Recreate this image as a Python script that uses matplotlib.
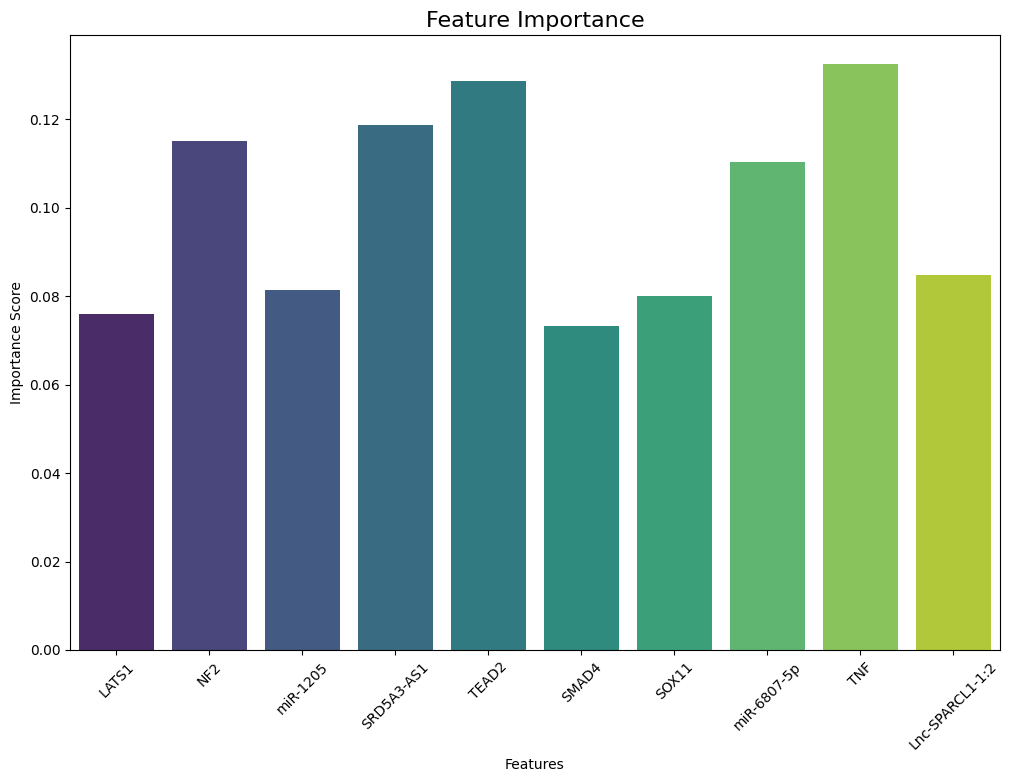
import matplotlib
matplotlib.use("Agg")
import matplotlib.pyplot as plt
import seaborn as sns
import pandas as pd

features = ["LATS1", "NF2", "miR-1205", "SRD5A3-AS1", "TEAD2", "SMAD4",
            "SOX11", "miR-6807-5p", "TNF", "Lnc-SPARCL1-1:2"]
scores = [0.0760, 0.1150, 0.0814, 0.1187, 0.1286, 0.0733,
          0.0801, 0.1103, 0.1324, 0.0848]

df = pd.DataFrame({"Feature": features, "Importance": scores})

plt.figure(figsize=(10.1, 7.82), dpi=100)
sns.barplot(data=df, x="Feature", y="Importance", hue="Feature",
            palette="viridis", legend=False)
plt.title("Feature Importance", fontsize=16)
plt.xlabel("Features")
plt.ylabel("Importance Score")
plt.xticks(rotation=45)
plt.subplots_adjust(left=0.0693, right=0.990, top=0.9552, bottom=0.1688)
plt.savefig("out.png", dpi=100)
